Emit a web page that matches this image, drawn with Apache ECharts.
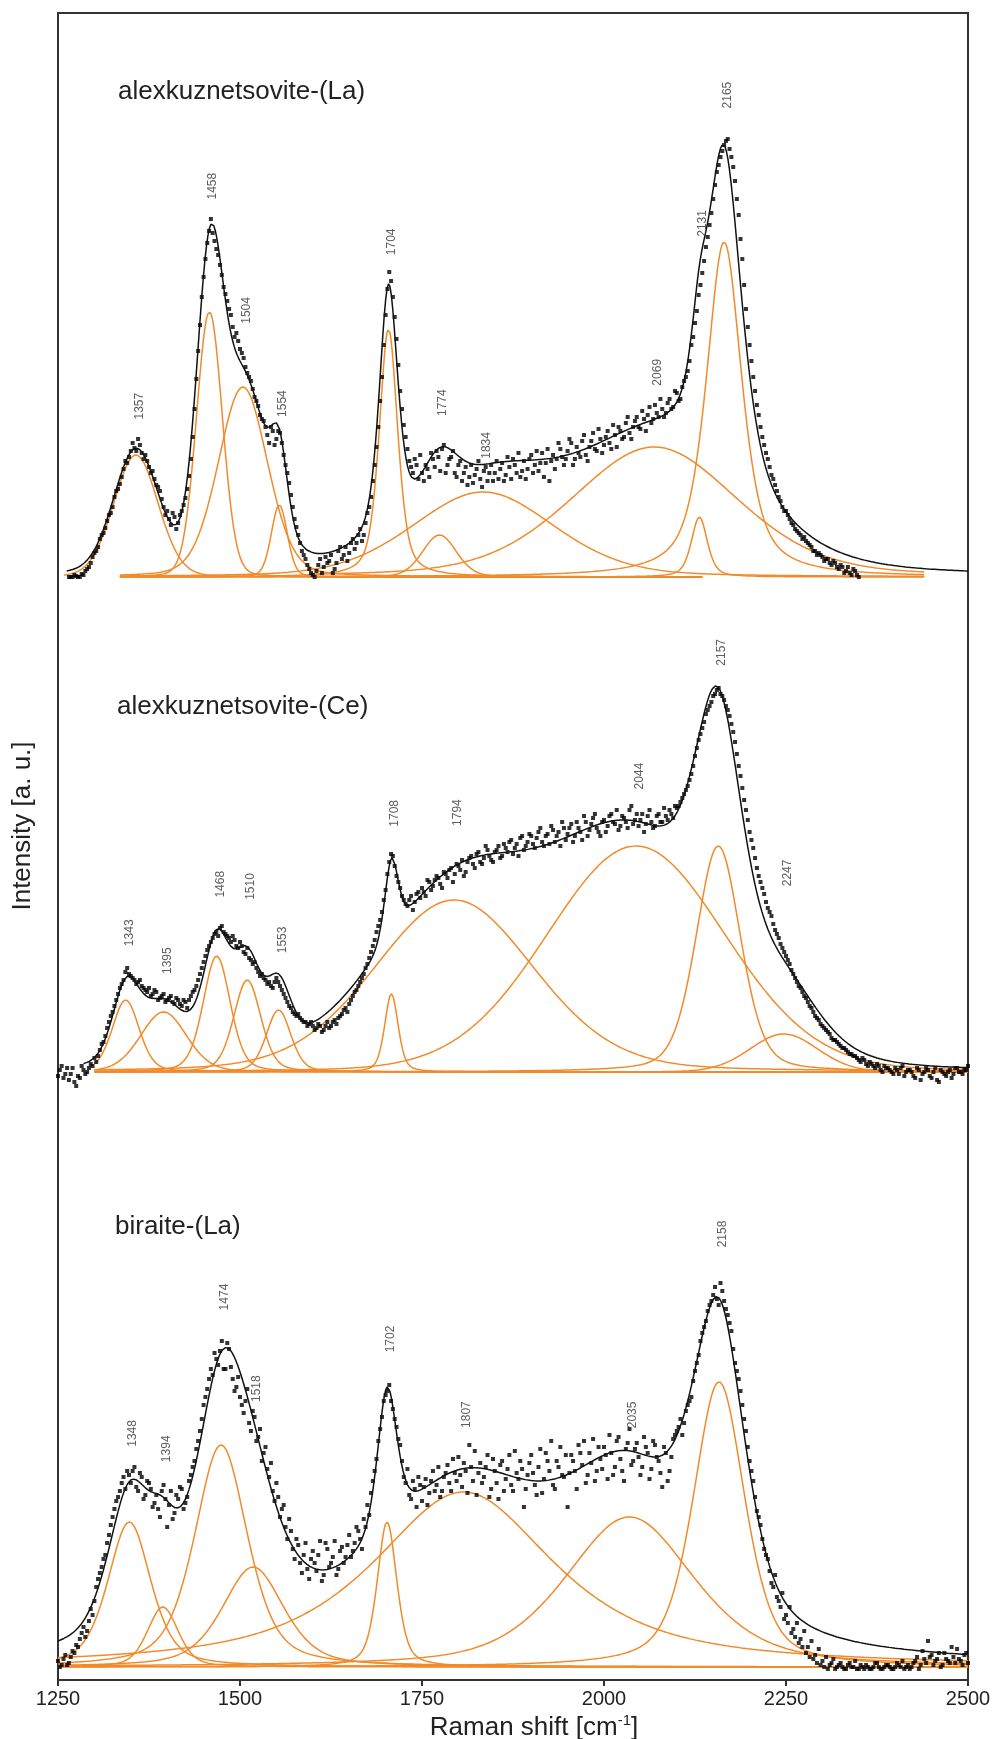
<!DOCTYPE html>
<html>
<head>
<meta charset="utf-8">
<script src="https://cdn.jsdelivr.net/npm/echarts@6/dist/echarts.min.js"></script>
<style>
  html, body { margin: 0; padding: 0; background: #fff; }
  #chart { width: 997px; height: 1739px; }
</style>
</head>
<body>
<div id="chart"></div>
<script>
// Raman spectra (1250–2500 cm-1) of three minerals, stacked with vertical offsets.
// Each spectrum: measured intensities (squares), fitted bands (orange) and their sum (black).

const xTicks = [1250, 1500, 1750, 2000, 2250, 2500];
const STEP = 5; // spacing of each reading list, cm-1; the second list sits half a step later

// ---------- alexkuznetsovite-(La) ----------
const laName = 'alexkuznetsovite-(La)';
const laOffset = 1103;
const laFirst = 1265;
const laCounts = [
  0,0,1,0,2,8,14,24,30,42,              // 1265–1310
  49,62,70,86,93,108,114,126,129,138,
  124,122,110,106,92,86,70,66,52,60,
  54,66,79,101,140,198,252,300,334,358,
  336,322,302,283,268,250,244,228,219,204,
  196,180,171,158,150,134,146,138,144,122,
  104,82,58,42,26,18,8,2,6,18,
  10,14,22,8,26,18,30,24,38,34,
  48,42,64,80,112,150,200,262,305,280,
  238,186,152,128,110,118,98,104,112,100,
  118,126,106,132,112,120,104,112,96,110,
  100,94,108,98,106,96,112,104,98,114,
  102,110,118,104,100,116,108,122,112,106,
  124,114,96,122,118,128,112,126,134,118,
  124,136,122,130,144,126,138,132,146,128,
  142,150,138,154,144,150,160,148,158,162,
  154,172,160,168,164,178,170,184,178,196,
  206,232,254,282,304,330,352,378,405,420,
  432,438,420,396,362,318,268,232,200,172,
  150,132,118,102,92,80,70,66,58,52,
  46,42,40,34,30,26,24,20,18,14,
  16,10,12,4,10,2,6,0                   // 2315–2350
];
const laCountsHalf = [
  0,2,0,3,6,10,20,26,38,44,             // 1267.5–1312.5
  56,64,80,88,100,116,120,134,126,132,
  118,116,104,98,90,78,62,58,64,48,
  62,72,88,118,168,226,280,318,346,344,
  328,312,290,276,262,240,236,224,210,200,
  188,176,162,156,142,150,132,146,134,112,
  94,70,50,34,22,12,4,0,12,4,
  20,16,4,14,30,22,16,34,28,42,
  36,54,70,96,130,176,232,288,296,260,
  212,168,140,116,104,112,122,96,108,124,
  110,120,128,104,118,126,100,116,104,92,
  112,102,116,90,110,104,96,116,108,96,
  120,98,112,124,106,98,118,104,126,114,
  100,128,116,108,134,120,118,138,112,130,
  120,142,116,136,128,148,124,140,134,152,
  130,146,140,160,138,156,150,166,146,170,
  158,164,178,160,174,168,186,176,190,200,
  216,240,266,292,316,340,364,392,412,426,
  436,428,410,378,338,292,250,216,186,162,
  140,124,110,98,86,76,66,62,54,48,
  44,38,36,32,26,22,22,16,18,12,
  14,8,10,6,4,8,2                       // 2317.5–2347.5
];
const laCentres = [1357, 1458, 1504, 1554, 1704, 1774, 1834, 2069, 2131, 2165];
const laHeights = [122, 265, 190, 72, 248, 42, 85, 130, 60, 335];
const laWidths  = [72, 42, 80, 26, 30, 55, 230, 270, 26, 58];
const laLorentz = [0.1, 0.1, 0.2, 0.2, 0.5, 0.2, 0.25, 0.3, 0.5, 0.65];
const laFrom    = [1258, 1335, 1335, 1335, 1335, 1335, 1335, 1600, 1600, 1600];
const laTo      = [2135, 2135, 2135, 2135, 2135, 2135, 2440, 2440, 2440, 2440];
const laFitRange = [1262, 2500];

// ---------- alexkuznetsovite-(Ce) ----------
const ceName = 'alexkuznetsovite-(Ce)';
const ceOffset = 608;
const ceFirst = 1250;
const ceCounts = [
  -4,6,-2,-8,4,-14,-6,2,0,8,            // 1250–1295
  14,16,28,36,50,60,72,84,92,104,
  96,92,90,86,82,84,78,80,74,78,
  72,76,68,72,66,70,72,80,86,98,
  110,122,130,138,136,146,138,134,136,126,
  130,120,124,112,110,100,98,92,90,84,
  94,86,78,70,64,58,58,52,50,48,
  46,44,46,42,50,46,52,54,58,64,
  68,76,82,90,98,108,120,132,146,160,
  182,210,216,196,184,172,166,176,170,180,
  184,176,190,186,196,188,200,194,204,198,
  206,212,200,214,208,218,210,214,222,212,
  220,226,216,224,230,218,228,234,222,230,
  236,224,240,230,236,228,242,236,226,244,
  238,248,236,244,232,250,242,254,244,236,
  252,246,258,248,242,256,250,262,248,258,
  252,240,256,250,246,258,250,256,262,254,
  264,270,278,286,298,316,332,344,358,366,
  376,382,378,372,362,348,330,306,284,262,
  240,224,204,190,178,164,156,142,134,124,
  116,108,98,90,84,76,70,64,56,52,
  46,42,38,32,30,26,24,20,18,16,
  12,14,8,10,6,8,2,6,4,0,
  4,-2,6,0,2,-4,4,-8,0,2,
  -6,4,-10,0,-4,2,-2,4,0,2,
  6                                     // 2500
];
const ceCountsHalf = [
  2,-6,4,-2,-10,-4,6,-2,4,6,            // 1252.5–1297.5
  10,22,30,44,56,66,78,88,100,98,
  94,88,92,84,80,76,82,72,76,70,
  74,70,74,68,72,64,76,82,92,104,
  116,126,134,140,144,140,136,130,132,124,
  126,118,114,108,104,96,94,88,86,90,
  90,82,74,66,60,56,54,50,46,50,
  42,48,40,46,44,50,48,56,62,60,
  72,80,86,94,104,114,126,140,152,172,
  198,218,206,190,176,168,172,162,178,174,
  180,192,182,192,194,184,198,202,190,208,
  202,196,210,216,204,220,208,226,216,210,
  222,214,228,220,232,224,216,236,226,238,
  228,234,244,226,238,246,230,240,250,232,
  244,230,250,240,256,236,248,258,240,250,
  240,256,250,262,246,254,244,266,252,246,
  258,248,262,244,256,250,264,252,258,266,
  266,274,282,292,306,324,338,350,362,370,
  378,384,376,366,356,340,318,296,272,252,
  232,214,196,184,170,160,148,138,128,120,
  112,102,94,86,80,74,66,60,54,48,
  44,40,34,32,28,24,22,18,16,14,
  10,12,6,8,4,6,0,4,2,-2,
  2,4,-4,2,0,-6,2,-2,4,-4,
  0,-8,2,-2,0,-6,4,0,-2,2               // 2452.5–2497.5
];
const ceCentres = [1343, 1395, 1468, 1510, 1553, 1708, 1794, 2044, 2157, 2247];
const ceHeights = [72, 60, 116, 92, 62, 78, 172, 226, 226, 38];
const ceWidths  = [44, 75, 44, 44, 40, 22, 260, 290, 72, 110];
const ceLorentz = [0.3, 0.2, 0.3, 0.3, 0.3, 0.4, 0.2, 0.1, 0.3, 0.1];
const ceFrom    = [1300, 1300, 1300, 1300, 1300, 1300, 1300, 1300, 1300, 2080];
const ceTo      = [1500, 1880, 2500, 2500, 2500, 2242, 2500, 2500, 2500, 2500];
const ceFitRange = [1285, 2500];

// ---------- biraite-(La) ----------
const biName = 'biraite-(La)';
const biOffset = 13;
const biFirst = 1250;
const biCounts = [
  6,2,12,4,16,22,28,40,36,58,           // 1250–1295
  66,88,100,112,132,150,166,176,190,196,
  184,200,176,190,172,184,160,172,150,182,
  140,176,154,168,178,164,186,200,218,236,
  262,278,298,314,302,326,298,318,288,280,
  270,254,278,236,250,230,206,220,190,176,
  184,150,162,128,136,108,122,94,124,88,
  116,96,126,92,118,104,126,98,120,110,
  132,116,140,128,148,162,174,196,226,250,
  272,282,258,240,222,190,198,168,178,190,
  166,188,174,196,182,170,190,202,176,194,
  210,180,196,222,186,172,204,190,212,178,
  196,168,206,188,212,176,194,206,160,192,
  212,182,200,174,214,196,182,206,220,190,
  160,212,196,222,202,184,214,228,196,208,
  220,188,214,200,230,196,218,238,206,224,
  192,230,214,198,222,206,180,214,196,228,
  236,248,244,262,270,296,312,334,346,362,
  372,368,384,366,352,336,304,288,262,236,
  206,186,156,142,118,108,84,92,66,74,
  52,60,38,44,28,36,20,26,12,18,
  6,10,2,8,0,4,-2,2,0,6,
  -2,0,2,-2,0,4,-2,0,2,-2,
  0,2,6,0,-2,4,10,2,8,26,
  12,6,14,2,8,4,10,18,6,12,
  4                                     // 2500
];
const biCountsHalf = [
  0,8,2,10,14,20,34,30,46,52,           // 1252.5–1297.5
  80,94,108,124,142,158,170,184,178,192,
  196,180,194,168,186,178,164,158,176,168,
  162,148,172,180,158,170,192,206,226,248,
  270,288,292,308,316,298,324,300,276,290,
  262,266,244,256,226,238,214,198,204,166,
  170,158,140,148,118,128,104,112,98,108,
  104,112,86,124,100,110,92,116,104,122,
  110,124,136,118,140,152,186,208,238,266,
  276,266,248,228,206,184,172,186,160,182,
  180,162,186,176,200,176,194,184,208,186,
  192,204,174,200,216,194,184,200,170,208,
  184,202,176,198,182,216,188,198,178,204,
  194,172,218,188,206,226,178,200,192,212,
  194,206,178,214,226,192,204,186,220,198,
  212,232,192,226,208,186,224,202,218,210,
  200,220,188,226,210,194,220,186,210,232,
  240,232,256,266,286,304,326,340,356,366,
  380,362,376,358,344,318,296,276,248,220,
  196,170,150,128,112,96,80,70,60,48,
  44,34,30,24,20,14,10,8,4,2,
  0,-2,4,-2,2,0,-2,4,0,-2,
  2,-2,0,-2,4,0,-2,2,0,-2,
  4,0,-2,2,0,6,-2,16,4,10,
  2,8,0,14,6,20,4,8,2,14                // 2452.5–2497.5
];
const biCentres = [1348, 1394, 1474, 1518, 1702, 1807, 2035, 2158];
const biHeights = [145, 60, 222, 100, 145, 175, 150, 285];
const biWidths  = [70, 50, 86, 100, 32, 300, 210, 84];
const biLorentz = [0.5, 0.4, 0.5, 0.5, 0.5, 0.8, 0.5, 0.5];
const biFrom    = [1250, 1250, 1250, 1250, 1250, 1250, 1250, 1250];
const biTo      = [2500, 2140, 2500, 2500, 2500, 2500, 2500, 2500];
const biFitRange = [1250, 2500];

// pseudo-Voigt band profile
function band(x, c, h, w, eta) {
  const d = (x - c) / w;
  return h * (eta / (1 + 4 * d * d) + (1 - eta) * Math.exp(-4 * Math.LN2 * d * d));
}

const ORANGE = '#f28a2a';
const FONT = '"Liberation Sans", Arial, sans-serif';

function spectrumSeries(s) {
  const fit = x => s.centres.reduce((acc, c, i) => acc + band(x, c, s.heights[i], s.widths[i], s.lorentz[i]), 0);
  const out = [];
  // fitted bands
  s.centres.forEach((c, i) => {
    const pts = [];
    for (let x = s.from[i]; x <= s.to[i]; x += 1) {
      pts.push([x, s.offset + band(x, c, s.heights[i], s.widths[i], s.lorentz[i])]);
    }
    out.push({
      type: 'line', data: pts, showSymbol: false, silent: true, z: 2,
      lineStyle: { color: ORANGE, width: 1.5 }
    });
  });
  // measured points
  const measured = s.counts.map((v, i) => [s.first + i * STEP, s.offset + v])
    .concat(s.half.map((v, i) => [s.first + STEP / 2 + i * STEP, s.offset + v]));
  out.push({
    type: 'scatter', symbol: 'rect', symbolSize: 4, silent: true, z: 3,
    itemStyle: { color: '#000' },
    data: measured
  });
  // sum of bands
  const sum = [];
  for (let x = s.fitRange[0]; x <= s.fitRange[1]; x += 2) sum.push([x, s.offset + fit(x)]);
  out.push({
    type: 'line', data: sum, showSymbol: false, silent: true, z: 4,
    lineStyle: { color: '#111', width: 1.5 }
  });
  // band position labels above the envelope
  out.push({
    type: 'scatter', symbolSize: 1, silent: true, z: 5,
    itemStyle: { color: 'rgba(0,0,0,0)' },
    label: {
      show: true, position: 'inside', rotate: 90, formatter: p => p.name,
      fontSize: 12, fontFamily: FONT, color: '#333'
    },
    data: s.centres.map(c => ({
      name: String(c),
      value: [c + 5, s.offset + fit(c) + (s.gaps[c] !== undefined ? s.gaps[c] : s.gap)]
    }))
  });
  return out;
}

const series = [
  ...spectrumSeries({ offset: laOffset, first: laFirst, counts: laCounts, half: laCountsHalf,
    centres: laCentres, heights: laHeights, widths: laWidths, lorentz: laLorentz,
    from: laFrom, to: laTo, fitRange: laFitRange,
    gap: 42, gaps: { 1504: 56, 1554: 25, 1774: 45, 1834: 19, 2069: 47, 2165: 50 } }),
  ...spectrumSeries({ offset: ceOffset, first: ceFirst, counts: ceCounts, half: ceCountsHalf,
    centres: ceCentres, heights: ceHeights, widths: ceWidths, lorentz: ceLorentz,
    from: ceFrom, to: ceTo, fitRange: ceFitRange,
    gap: 45, gaps: { 1510: 60, 1553: 34, 1794: 54, 1395: 38, 2157: 35, 2247: 87 } }),
  ...spectrumSeries({ offset: biOffset, first: biFirst, counts: biCounts, half: biCountsHalf,
    centres: biCentres, heights: biHeights, widths: biWidths, lorentz: biLorentz,
    from: biFrom, to: biTo, fitRange: biFitRange,
    gap: 48, gaps: { 1474: 55, 2035: 36, 1807: 54, 1518: 30, 1394: 48, 2158: 64 } })
];

const chart = echarts.init(document.getElementById('chart'), null, { renderer: 'canvas' });
chart.setOption({
  animation: false,
  backgroundColor: '#fff',
  grid: {
    left: 58, right: 29, top: 13, bottom: 59,
    containLabel: false, outerBoundsMode: 'none',
    show: true, borderColor: '#333', borderWidth: 2
  },
  xAxis: {
    type: 'value', min: xTicks[0], max: xTicks[xTicks.length - 1], interval: xTicks[1] - xTicks[0],
    axisLine: { show: true, lineStyle: { color: '#333', width: 2 } },
    axisTick: { show: true, length: 6, lineStyle: { color: '#333', width: 2 } },
    axisLabel: { fontSize: 20, fontFamily: FONT, color: '#222', margin: 9, formatter: v => String(v) },
    splitLine: { show: false },
    name: '{n|Raman shift [cm}{s|-1}{n|]}',
    nameLocation: 'middle', nameGap: 33, nameMoveOverlap: false,
    nameTextStyle: {
      padding: [0, 0, 0, 42],
      rich: {
        n: { fontSize: 26, fontFamily: FONT, color: '#222', lineHeight: 30 },
        s: { fontSize: 15, fontFamily: FONT, color: '#222', lineHeight: 15, verticalAlign: 'top' }
      }
    }
  },
  yAxis: {
    type: 'value', min: 0, max: 1667,
    axisLine: { show: true, lineStyle: { color: '#333', width: 2 } },
    axisTick: { show: false }, axisLabel: { show: false }, splitLine: { show: false }
  },
  graphic: [
    { type: 'text', x: 23, y: 826, rotation: Math.PI / 2,
      style: { text: 'Intensity [a. u.]', fontSize: 26, fontFamily: FONT, fill: '#222', align: 'center', verticalAlign: 'middle' } },
    { type: 'text', left: 118, top: 79, style: { text: laName, fontSize: 26, fontFamily: FONT, fill: '#222' } },
    { type: 'text', left: 117, top: 694, style: { text: ceName, fontSize: 26, fontFamily: FONT, fill: '#222' } },
    { type: 'text', left: 115, top: 1214, style: { text: biName, fontSize: 26, fontFamily: FONT, fill: '#222' } }
  ],
  series
});
</script>
</body>
</html>
